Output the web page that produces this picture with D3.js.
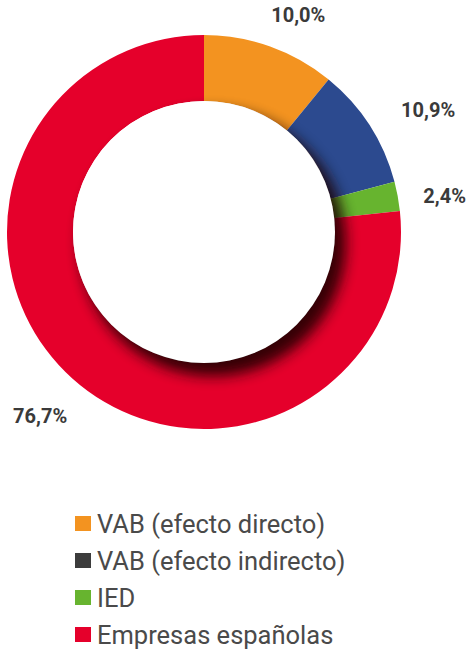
<!DOCTYPE html>
<html>
<head>
<meta charset="utf-8">
<script src="https://cdn.jsdelivr.net/npm/d3@7"></script>
<style>
  html, body { margin: 0; padding: 0; background: #fff; }
  svg { display: block; }
</style>
</head>
<body>
<svg id="chart" width="470" height="651"></svg>
<script>
// Data (drawn arc shares; printed labels as shown)
const categories = ["VAB (efecto directo)", "VAB (efecto indirecto)", "IED", "Empresas españolas"];
const values = [10.9, 10.0, 2.4, 76.7];
const valueLabels = ["10,0%", "10,9%", "2,4%", "76,7%"];
const sliceColors = ["#F39320", "#2C4A8F", "#67B42F", "#E5002B"];
const legendColors = ["#F39320", "#3C3C3C", "#67B42F", "#E5002B"];

const W = 470;
const svg = d3.select("#chart");
const cx = 204, cy = 232, outerR = 197, innerR = 131;

const defs = svg.append("defs");
const f = defs.append("filter").attr("id", "shadowBlur")
  .attr("x", "-30%").attr("y", "-30%").attr("width", "160%").attr("height", "160%");
f.append("feGaussianBlur").attr("stdDeviation", 7);

const pie = d3.pie().sort(null).value(d => d);
const arcs = pie(values);
const arc = d3.arc().innerRadius(innerR).outerRadius(outerR);

const g = svg.append("g").attr("transform", `translate(${cx},${cy})`);
g.selectAll("path.slice").data(arcs).join("path")
  .attr("class", "slice")
  .attr("d", arc)
  .attr("fill", (d, i) => sliceColors[i]);

// inner drop shadow of the hole (clipped to the ring)
defs.append("clipPath").attr("id", "ringClip")
  .append("path")
  .attr("d", d3.arc().innerRadius(0).outerRadius(outerR)({startAngle: 0, endAngle: 2 * Math.PI}));
g.append("g").attr("clip-path", "url(#ringClip)")
  .append("circle")
  .attr("cx", 9).attr("cy", 11).attr("r", innerR + 2)
  .attr("fill", "#1a0005").attr("opacity", 0.88)
  .attr("filter", "url(#shadowBlur)");
g.append("circle").attr("r", innerR).attr("fill", "#fff");

// value labels
const fontLabel = "Roboto, 'DejaVu Sans', sans-serif";
const labelR = outerR + 33;
const labelLayer = svg.append("g");
arcs.forEach((d, i) => {
  const a = (d.startAngle + d.endAngle) / 2;
  const t = labelLayer.append("text")
    .attr("font-family", fontLabel)
    .attr("font-weight", 700)
    .attr("font-size", 20)
    .attr("fill", "#3a3a3a")
    .attr("text-anchor", "middle")
    .attr("dominant-baseline", "central")
    .text(valueLabels[i]);
  const w = t.node().getBBox().width;
  let px = cx + 8 + (labelR + w / 2) * Math.sin(a);
  px = Math.max(w / 2 + 4, Math.min(W - 4 - w / 2, px));
  const py = cy + 7 - (labelR + 7.5) * Math.cos(a);
  t.attr("x", px).attr("y", py);
});

// legend
const legend = svg.append("g").attr("transform", "translate(75,0)");
const rowY = d3.scalePoint().domain(categories).range([533, 644]);
categories.forEach((c, i) => {
  const y = rowY(c);
  legend.append("rect")
    .attr("x", 0).attr("y", y - 17).attr("width", 16).attr("height", 15)
    .attr("fill", legendColors[i]);
  legend.append("text")
    .attr("x", 22).attr("y", y)
    .attr("font-family", fontLabel)
    .attr("font-weight", 400)
    .attr("font-size", 25.5)
    .attr("fill", "#4a4a4a")
    .text(c);
});
</script>
</body>
</html>
